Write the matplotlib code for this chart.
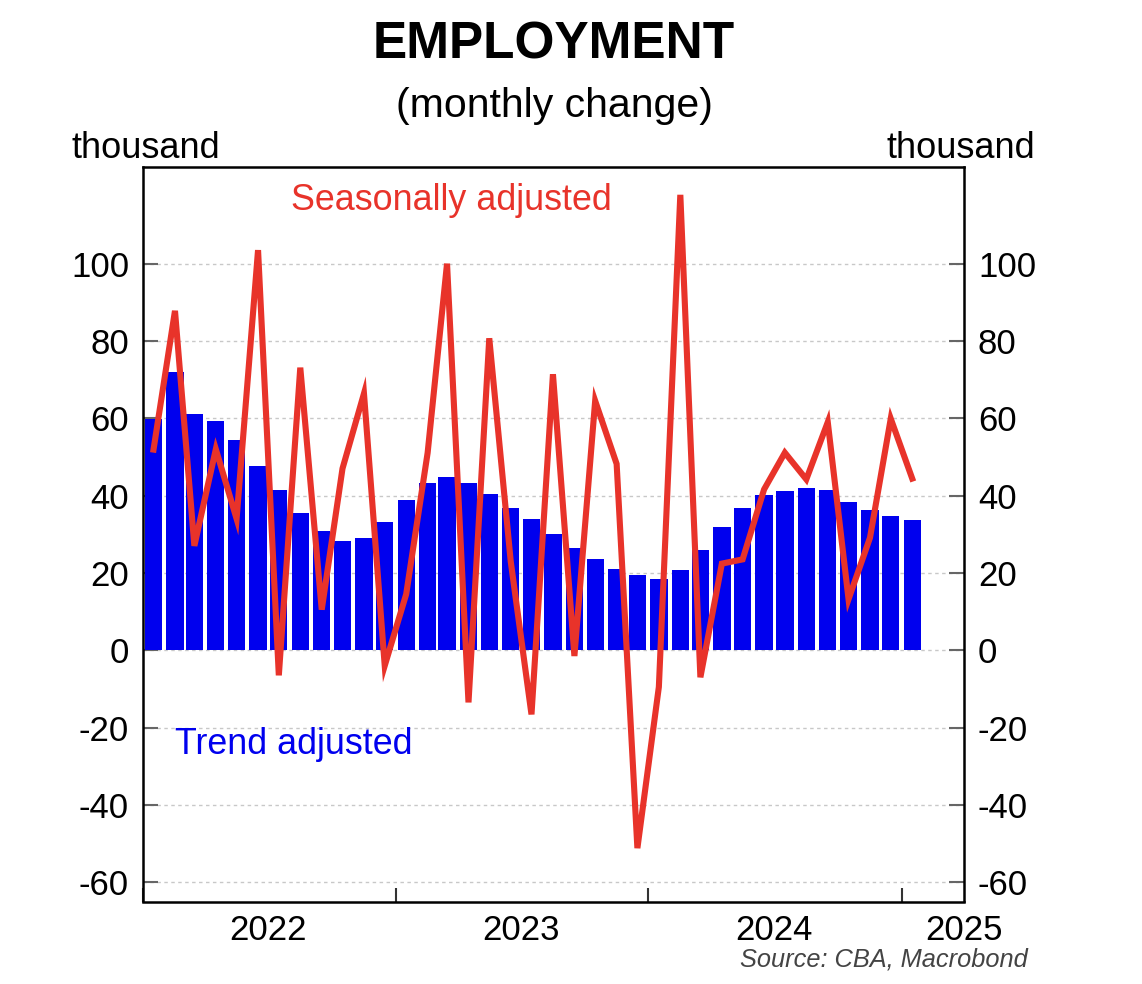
import matplotlib
matplotlib.use("Agg")
import matplotlib.pyplot as plt
import matplotlib.dates as mdates
import numpy as np
import pandas as pd
from datetime import datetime

plt.rcParams['font.family'] = ['Liberation Sans', 'DejaVu Sans']

# ---- data (thousand, monthly change) ----
months = pd.date_range("2022-01-01", "2025-01-01", freq="MS")
trend = [59.7, 71.9, 61.1, 59.2, 54.5, 47.7, 41.4, 35.6, 30.8, 28.3, 29.1, 33.1,
         38.9, 43.3, 44.8, 43.3, 40.4, 36.8, 33.9, 30.1, 26.5, 23.6, 20.9, 19.5,
         18.3, 20.8, 26.0, 32.0, 36.7, 40.1, 41.2, 42.0, 41.4, 38.4, 36.4, 34.8,
         33.7]
seas_adj = [51.9, 87.8, 27.0, 52.0, 34.0, 103.5, -6.5, 73.1, 10.5, 47.0, 66.4, -4.0,
            14.5, 51.1, 100.0, -13.5, 80.7, 23.0, -16.6, 71.4, -1.5, 64.5, 48.2, -51.2,
            -9.5, 117.8, -7.0, 22.4, 23.5, 41.6, 51.1, 44.2, 59.0, 13.2, 29.1, 59.9,
            44.4]
year_labels = ["2022", "2023", "2024", "2025"]
yticks = [-60, -40, -20, 0, 20, 40, 60, 80, 100]

BLUE = "#0000EE"
RED = "#E8332A"

fig = plt.figure(figsize=(11.42, 9.84), dpi=100)
ax = fig.add_axes([143/1142, 1 - 901.5/984, (964-143)/1142, (901.5-167)/984])

x0 = mdates.date2num(datetime(2022, 1, 1))
x1 = mdates.date2num(datetime(2025, 4, 1))
centers = mdates.date2num(months) + 15.2
ax.bar(centers, trend, width=25, color=BLUE, edgecolor="none", zorder=2)
ax.plot(centers, seas_adj, color=RED, lw=4.4, zorder=3, solid_joinstyle='miter')

ax.set_xlim(x0, x1)
ax.set_ylim(-65, 125)

# y ticks both sides, inward, grey
ax.set_yticks(yticks)
ax.set_yticklabels([str(v) for v in yticks])
ax.tick_params(axis='y', which='major', direction='in', length=11, width=1.5,
               color='#666666', labelsize=25, left=True, right=True,
               labelleft=True, labelright=True, pad=10)
ax.grid(axis='y', color='#c8c8c8', linestyle=(0, (2.5, 2.5)), linewidth=1.0, zorder=1)

# x ticks at year boundaries, labels centered on years
year_starts = [mdates.date2num(datetime(y, 1, 1)) for y in (2022, 2023, 2024, 2025)]
ax.set_xticks(year_starts)
ax.set_xticklabels([])
ax.tick_params(axis='x', which='major', direction='in', length=10, width=1.5,
               color='#333333')
mids = [mdates.date2num(datetime(y, 7, 1)) for y in (2022, 2023, 2024)]
ax.set_xticks(mids, minor=True)
ax.set_xticklabels(year_labels[:3], minor=True)
ax.tick_params(axis='x', which='minor', length=0, labelsize=25, pad=9)
ax.annotate(year_labels[3], xy=(1.0, 0.0), xycoords='axes fraction',
            xytext=(0, -9 * 100 / 72), textcoords='offset pixels',
            ha='center', va='top', fontsize=25)

for s in ax.spines.values():
    s.set_linewidth(1.8)
    s.set_color('black')

# titles and labels
fig.text(554/1142, 1 - 45/984, "EMPLOYMENT", ha='center', va='center',
         fontsize=37, fontweight='bold')
fig.text(554/1142, 1 - 106/984, "(monthly change)", ha='center', va='center',
         fontsize=29.5)
fig.text(72/1142, 1 - 158/984, "thousand", ha='left', va='baseline', fontsize=26)
fig.text(1035/1142, 1 - 158/984, "thousand", ha='right', va='baseline', fontsize=26)

ax.text((291-143)/821, 1 - (200-167)/734.5, "Seasonally adjusted", transform=ax.transAxes,
        ha='left', va='center', color=RED, fontsize=25.8)
ax.text((175-143)/821, 1 - (745-167)/734.5, "Trend adjusted", transform=ax.transAxes,
        ha='left', va='center', color=BLUE, fontsize=25.8)

fig.text(1028/1142, 1 - 959/984, "Source: CBA, Macrobond", ha='right', va='center',
         fontsize=18.3, style='italic', color='#444444')

fig.savefig("out.png", dpi=100)
